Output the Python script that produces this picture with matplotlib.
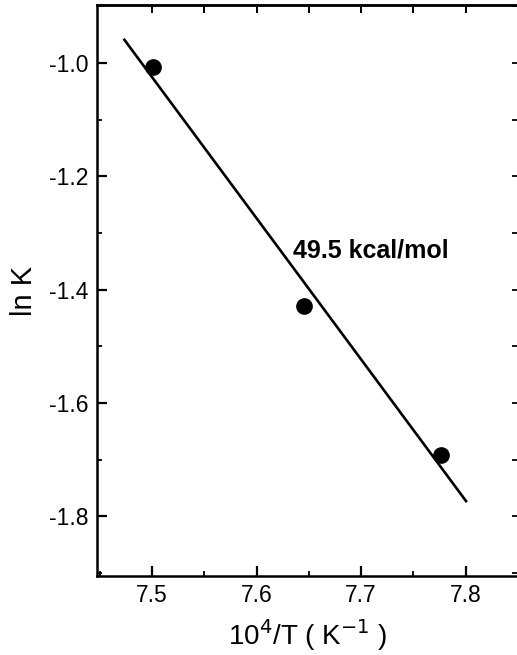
import matplotlib.pyplot as plt
import numpy as np

plt.rcParams['font.family'] = ['Liberation Sans', 'DejaVu Sans']

# Arrhenius-type data: 10^4/T vs ln K
inv_t = [7.501, 7.645, 7.776]
ln_k = [-1.007, -1.428, -1.691]
dh_kcal = 49.5            # kcal/mol, from the fitted slope
R_kcal = 1.987e-3         # kcal/(mol K)
fit_range = [7.473, 7.801]

xticks = [7.5, 7.6, 7.7, 7.8]
xtick_labels = ['7.5', '7.6', '7.7', '7.8']
yticks = [-1.0, -1.2, -1.4, -1.6, -1.8]
ytick_labels = ['-1.0', '-1.2', '-1.4', '-1.6', '-1.8']

# line through the centroid with slope -dH/R (x in units of 1e-4 K^-1)
slope = -dh_kcal / R_kcal / 1e4
xm, ym = np.mean(inv_t), np.mean(ln_k)
xf = np.array(fit_range)
yf = ym + slope * (xf - xm)

fig = plt.figure(figsize=(5.17, 6.55), dpi=100)
ax = fig.add_axes([0.1876, 0.1206, 0.8145, 0.8718])

ax.plot(xf, yf, color='black', lw=1.9, solid_capstyle='butt')
ax.plot(inv_t, ln_k, 'o', color='black', ms=11)

ax.text(7.6347, -1.3436, '%.1f kcal/mol' % dh_kcal, fontsize=18,
        fontweight='bold', ha='left', va='baseline')

ax.set_xlim(7.4475, 7.848)
ax.set_ylim(-1.905, -0.898)

ax.set_xticks(xticks)
ax.set_xticklabels(xtick_labels)
ax.set_xticks(np.arange(7.45, 7.86, 0.1), minor=True)
ax.set_yticks(yticks)
ax.set_yticklabels(ytick_labels)
ax.set_yticks(np.arange(-1.9, -0.89, 0.2), minor=True)

ax.tick_params(which='major', direction='in', length=7, width=1.6,
               labelsize=16.5, pad=6, top=False, right=False)
ax.tick_params(which='minor', direction='in', length=3.5, width=1.3,
               top=False, right=False)

# top and right axes carry their own inward ticks without labels
top = ax.secondary_xaxis('top')
top.set_xticks(np.arange(7.5, 7.86, 0.05))
top.tick_params(direction='in', length=6, width=1.4, labeltop=False)
right = ax.secondary_yaxis('right')
right.set_yticks(np.arange(-1.9, -0.89, 0.1))
right.tick_params(direction='in', length=4, width=1.3, labelright=False)
for sec in (top, right):
    for sp in sec.spines.values():
        sp.set_linewidth(1.8)

for sp in ax.spines.values():
    sp.set_linewidth(1.8)

ax.set_xlabel('10$^4$/T ( K$^{-1}$ )', fontsize=20, labelpad=7)
ax.set_ylabel('ln K', fontsize=21, labelpad=8)

fig.savefig('out.png', dpi=100)
